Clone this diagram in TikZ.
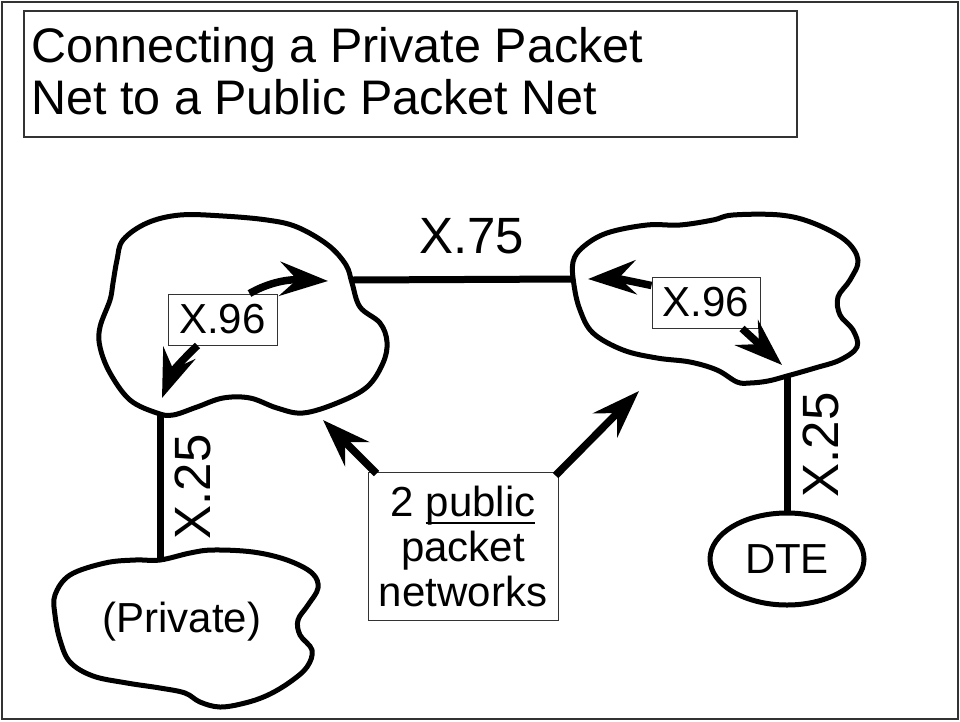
\documentclass[tikz,border=0pt]{standalone}
\usepackage{fontspec}
\setmainfont{Liberation Sans}
\usetikzlibrary{arrows.meta,shapes.geometric,calc}
\newcommand\myul[1]{\setbox0\hbox{#1}\rlap{\rule[-8pt]{\wd0}{2.5pt}}\box0}
\begin{document}
\begin{tikzpicture}[x=1pt,y=-1pt,
  cloud/.style={line width=5pt, line join=round},
  link/.style={line width=7pt},
  arr/.style={line width=7.5pt, -{Stealth[length=48pt,width=34pt,inset=17pt]}},
  frame/.style={draw=black!80, line width=1.2pt},
  lbox/.style={draw=black!80, line width=1pt, inner sep=0pt, font=\fontsize{42}{45}\selectfont},
  big/.style={font=\fontsize{51}{55}\selectfont, inner sep=0pt},
  small/.style={font=\fontsize{42}{45}\selectfont, inner sep=0pt},
  ttl/.style={font=\fontsize{48.5}{52}\selectfont, inner sep=0pt, anchor=base west}]
\useasboundingbox (0,0) rectangle (960,721);
% frames
\draw[draw=black!80, line width=2pt] (2,2) rectangle (958,719);
\draw[frame] (24,11) rectangle (797,137);
\node[ttl] (title1) at (31,62) {Connecting a Private Packet};
\node[ttl] (title2) at (31,114) {Net to a Public Packet Net};
% clouds
\draw[cloud] plot[smooth cycle, tension=0.6] coordinates {
 (117,260) (123,240) (147,223) (180,215) (223,216) (267,220) (297,227) (328,245)
 (346,265) (352,283) (360,307) (380,323) (387,342) (383,363) (367,387) (337,403)
 (303,413) (277,408) (250,398) (223,398) (197,407) (173,415) (157,413) (130,400)
 (110,373) (100,347) (100,327) (110,300) (113,283)};
\draw[cloud] plot[smooth cycle, tension=0.6] coordinates {
 (573,262) (583,247) (607,233) (647,225) (680,225) (713,220) (733,215) (780,215)
 (813,223) (845,240) (858,260) (850,280) (838,297) (840,315) (853,330) (857,347)
 (840,360) (815,368) (787,376) (768,381) (750,383) (737,382) (717,370) (690,362)
 (657,358) (623,350) (593,333) (580,310) (574,285)};
\draw[cloud] plot[smooth cycle, tension=0.6] coordinates {
 (160,560) (190,553) (213,550) (253,552) (287,560) (312,573) (318,588) (308,605)
 (298,620) (300,635) (312,650) (307,667) (290,682) (268,695) (245,703) (220,707)
 (200,702) (185,693) (160,688) (127,683) (93,676) (70,662) (60,640) (55,615)
 (55,595) (70,575) (105,563) (135,560)};
% attachment points
\coordinate (Le) at (352,280);
\coordinate (Rw) at (573,279);
\coordinate (Ls) at (160,414);
\coordinate (Pn) at (160,560);
\coordinate (Rs) at (787,376);
% nodes
\node[small, anchor=base] (private) at (182,632) {(Private)};
\node[small, draw, ellipse, line width=5pt, minimum width=154, minimum height=92] (dte) at (787,559) {DTE};
\node[lbox, minimum width=109, minimum height=51] (x96L) at (222.5,319.5) {X.96};
\node[lbox, minimum width=108, minimum height=51] (x96R) at (706,302.5) {X.96};
\node[lbox, minimum width=190, minimum height=148, align=center] (pub) at (463,546)
  {2 \myul{public}\\packet\\networks};
\node[big, anchor=base west] (x75) at (419,253) {X.75};
\node[big, rotate=90] (x25L) at (193,487) {X.25};
\node[big, rotate=90] (x25R) at (821,445) {X.25};
% links
\draw[link] (Le) -- (Rw);
\draw[link] (Ls) -- (Pn);
\draw[link] (Rs) -- (dte.north);
% arrow tips
\coordinate (t1) at (328,281);
\coordinate (t2) at (162,398);
\coordinate (t3) at (588,279);
\coordinate (t4) at (782,365);
\coordinate (t5) at (323,420);
\coordinate (t6) at (639,391);
% arrows
\draw[arr] ($(x96L.north)+(27,0)$) .. controls (266,284) and (285,279) .. (t1);
\draw[arr] ($(x96L.south)+(-25,0)$) .. controls (184,358) and (172,372) .. (t2);
\draw[arr] ($(x96R.west)+(0,-17)$) .. controls (635,282) and (615,278) .. (t3);
\draw[arr] ($(x96R.south)+(36,0)$) -- (t4);
\draw[arr] ($(pub.north west)+(9,2)$) -- (t5);
\draw[arr] ($(pub.north east)+(-3,4)$) -- (t6);
\end{tikzpicture}
\end{document}
